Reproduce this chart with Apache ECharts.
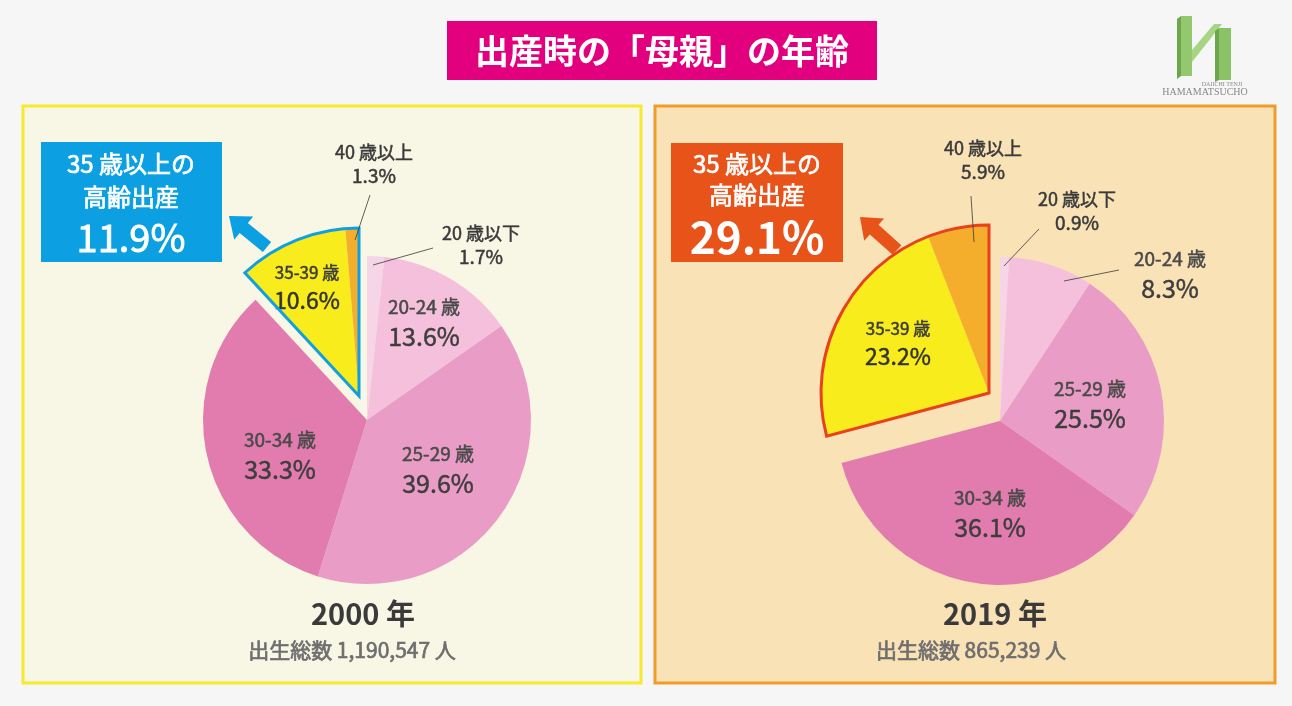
<!DOCTYPE html>
<html>
<head>
<meta charset="utf-8">
<title>出産時の「母親」の年齢</title>
<script src="https://cdn.jsdelivr.net/npm/echarts/dist/echarts.min.js"></script>
<style>
  html, body { margin: 0; padding: 0; background: #f5f6f5; }
  #chart { width: 1292px; height: 706px; }
</style>
</head>
<body>
<div id="chart"></div>
<script>
// data
const categories = ['20 歳以下', '20-24 歳', '25-29 歳', '30-34 歳', '35-39 歳', '40 歳以上']
const share2000 = [1.7, 13.6, 39.6, 33.3, 10.6, 1.3]
const share2019 = [0.9, 8.3, 25.5, 36.1, 23.2, 5.9]
const years = ['2000 年', '2019 年']
const births = ['1,190,547', '865,239']
const olderIdx = [4, 5] // 35歳以上 = 高齢出産

const FONT = '"Noto Sans CJK JP", "Noto Sans", sans-serif'
const sliceColors = ['#f6d5e7', '#f4c0dc', '#e99cc5', '#e27bae', '#f8ec1c', '#f5ae2b']
const CLEAR = 'rgba(0,0,0,0)'

const isOlder = i => olderIdx.indexOf(i) >= 0
const sumOf = (arr, pick) => +arr.filter((v, i) => pick(i)).reduce((a, b) => a + b, 0).toFixed(1)

// a thin outline of the same colour makes the regular face look medium
function rich (size, color, lh) {
  return { fontFamily: FONT, fontSize: size, color: color, lineHeight: lh, align: 'center', textBorderColor: color, textBorderWidth: 0.5 }
}
const labelRich = {
  n: rich(19, '#4a4a4a', 29),
  v: rich(25, '#3d3d3d', 31),
  mn: rich(17, '#3d3d3d', 27),
  mv: rich(23, '#333333', 29),
  sn: rich(18, '#3a3a3a', 23),
  sv: rich(19, '#3a3a3a', 23)
}

const pies = [
  {
    values: share2000,
    center: [367, 420],
    wedgeCenter: [359, 396],
    edge: '#109fe0',
    sizes: ['s', 'l', 'l', 'l', 'm', 's'],
    labelPos: [[481, 245], [424, 322], [438, 469], [280, 455], [307, 287], [374, 164]]
  },
  {
    values: share2019,
    center: [1000, 421],
    wedgeCenter: [989, 393],
    edge: '#e8411e',
    sizes: ['s', 'l', 'l', 'l', 'm', 's'],
    labelPos: [[1077, 211], [1170, 274], [1090, 404], [990, 513], [898, 343], [983, 160]]
  }
]

function labelFor (pie) {
  return {
    show: true,
    position: 'inside',
    formatter: p => {
      const k = pie.sizes[p.dataIndex]
      const nk = k === 'l' ? 'n' : k + 'n'
      const vk = k === 'l' ? 'v' : k + 'v'
      return '{' + nk + '|' + p.name + '}\n{' + vk + '|' + p.value.toFixed(1) + '%}'
    },
    rich: labelRich
  }
}

function layoutFor (pie) {
  return p => {
    const pos = pie.labelPos[p.dataIndex]
    return { x: pos[0], y: pos[1], align: 'center', verticalAlign: 'middle' }
  }
}

const series = []
pies.forEach(pie => {
  const base = {
    type: 'pie',
    startAngle: 90,
    clockwise: true,
    silent: true,
    animation: false,
    avoidLabelOverlap: false,
    labelLine: { show: false },
    emphasis: { disabled: true }
  }
  // remaining slices
  series.push(Object.assign({}, base, {
    center: pie.center,
    radius: 164,
    label: labelFor(pie),
    labelLayout: layoutFor(pie),
    data: pie.values.map((v, i) => ({
      name: categories[i],
      value: v,
      itemStyle: { color: isOlder(i) ? CLEAR : sliceColors[i] },
      label: { show: !isOlder(i) }
    }))
  }))
  // pulled-out wedge (35歳以上)
  series.push(Object.assign({}, base, {
    center: pie.wedgeCenter,
    radius: 168,
    label: labelFor(pie),
    labelLayout: layoutFor(pie),
    data: pie.values.map((v, i) => ({
      name: categories[i],
      value: v,
      itemStyle: { color: isOlder(i) ? sliceColors[i] : CLEAR },
      label: { show: isOlder(i) }
    }))
  }))
  // outline round the wedge
  series.push(Object.assign({}, base, {
    center: pie.wedgeCenter,
    radius: 168,
    z: 3,
    label: { show: false },
    data: [
      { name: 'under35', value: sumOf(pie.values, i => !isOlder(i)), itemStyle: { color: CLEAR } },
      { name: 'over35', value: sumOf(pie.values, isOlder), itemStyle: { color: CLEAR, borderColor: pie.edge, borderWidth: 3, borderJoin: 'miter' } }
    ]
  }))
})

function arrow (tail, tip, shaftW, headW, headL) {
  const dx = tip[0] - tail[0]
  const dy = tip[1] - tail[1]
  const len = Math.hypot(dx, dy)
  const ux = dx / len
  const uy = dy / len
  const px = -uy
  const py = ux
  const bx = tip[0] - ux * headL
  const by = tip[1] - uy * headL
  return [
    [tail[0] + px * shaftW / 2, tail[1] + py * shaftW / 2],
    [bx + px * shaftW / 2, by + py * shaftW / 2],
    [bx + px * headW / 2, by + py * headW / 2],
    tip,
    [bx - px * headW / 2, by - py * headW / 2],
    [bx - px * shaftW / 2, by - py * shaftW / 2],
    [tail[0] - px * shaftW / 2, tail[1] - py * shaftW / 2]
  ]
}

function text (x, y, str, size, weight, color, family, border) {
  return {
    type: 'text',
    z: 20,
    silent: true,
    style: {
      x: x,
      y: y,
      text: str,
      fill: color,
      stroke: border ? color : null,
      lineWidth: border || 0,
      font: weight + ' ' + size + 'px ' + (family || FONT),
      textAlign: 'center',
      textVerticalAlign: 'middle',
      align: 'center',
      verticalAlign: 'middle'
    }
  }
}

function line (x1, y1, x2, y2) {
  return {
    type: 'line',
    z: 20,
    silent: true,
    shape: { x1: x1, y1: y1, x2: x2, y2: y2 },
    style: { stroke: '#3a3a3a', lineWidth: 0.8 }
  }
}

const olderTotals = pies.map(p => sumOf(p.values, isOlder))
const SERIF = '"Liberation Serif", serif'

const graphic = [
  // panels
  { type: 'rect', z: 0, silent: true, shape: { x: 23, y: 106, width: 618, height: 577 }, style: { fill: '#f8f6e4', stroke: '#f6ea2c', lineWidth: 3 } },
  { type: 'rect', z: 0, silent: true, shape: { x: 655, y: 106, width: 620, height: 577 }, style: { fill: '#f8e2b6', stroke: '#f09c2a', lineWidth: 3 } },
  // title
  { type: 'rect', z: 10, silent: true, shape: { x: 447, y: 21, width: 430, height: 59 }, style: { fill: '#e2007f' } },
  text(662, 51, '出産時の「母親」の年齢', 34, 'bold', '#ffffff'),
  // callout boxes
  { type: 'rect', z: 10, silent: true, shape: { x: 41, y: 142, width: 181, height: 120 }, style: { fill: '#0ca0e2' } },
  text(131, 164, '35 歳以上の', 24, 'normal', '#ffffff', null, 0.7),
  text(131, 197, '高齢出産', 24, 'normal', '#ffffff', null, 0.7),
  text(131, 238, olderTotals[0].toFixed(1) + '%', 38, 'normal', '#ffffff', null, 0.8),
  { type: 'polygon', z: 10, silent: true, shape: { points: arrow([267, 247], [229, 216], 13, 30, 19) }, style: { fill: '#0ca0e2' } },
  { type: 'rect', z: 10, silent: true, shape: { x: 671, y: 143, width: 172, height: 119 }, style: { fill: '#e8531a' } },
  text(757, 164, '35 歳以上の', 24, 'normal', '#ffffff', null, 0.7),
  text(757, 195, '高齢出産', 24, 'normal', '#ffffff', null, 0.7),
  text(757, 237, olderTotals[1].toFixed(1) + '%', 44, 'bold', '#ffffff'),
  { type: 'polygon', z: 10, silent: true, shape: { points: arrow([897, 250], [860, 217], 13, 30, 19) }, style: { fill: '#e8531a' } },
  // leader lines
  line(370, 195, 355, 240),
  line(433, 248, 373, 265),
  line(971, 196, 974, 242),
  line(1039, 229, 1004, 266),
  line(1119, 270, 1064, 281),
  // year + total births
  text(363, 614, years[0], 29, 'bold', '#3a3a3a'),
  text(352, 650, '出生総数 ' + births[0] + ' 人', 21, 'normal', '#6e6e6e', null, 0.7),
  text(995, 614, years[1], 29, 'bold', '#3a3a3a'),
  text(971, 650, '出生総数 ' + births[1] + ' 人', 21, 'normal', '#6e6e6e', null, 0.7),
  // logo
  { type: 'polygon', z: 10, silent: true, shape: { points: [[1177, 19], [1181, 16], [1181, 76], [1177, 79]] }, style: { fill: '#6da64c' } },
  { type: 'rect', z: 10, silent: true, shape: { x: 1181, y: 16, width: 11, height: 60 }, style: { fill: '#93c86f' } },
  { type: 'polygon', z: 10, silent: true, shape: { points: [[1192, 50], [1214, 24], [1222, 24], [1192, 62]] }, style: { fill: '#a7d585' } },
  { type: 'polygon', z: 10, silent: true, shape: { points: [[1215, 31], [1219, 28], [1219, 80], [1215, 82]] }, style: { fill: '#6da64c' } },
  { type: 'rect', z: 10, silent: true, shape: { x: 1219, y: 28, width: 12, height: 52 }, style: { fill: '#8cc266' } },
  text(1222, 84, 'DAIICHI TENJI', 6, 'normal', '#8a8a8a', SERIF),
  text(1205, 92, 'HAMAMATSUCHO', 10, 'normal', '#888888', SERIF)
]

const chart = echarts.init(document.getElementById('chart'), null, { renderer: 'canvas' })
chart.setOption({
  backgroundColor: '#f5f6f5',
  animation: false,
  graphic: graphic,
  series: series
})
</script>
</body>
</html>
